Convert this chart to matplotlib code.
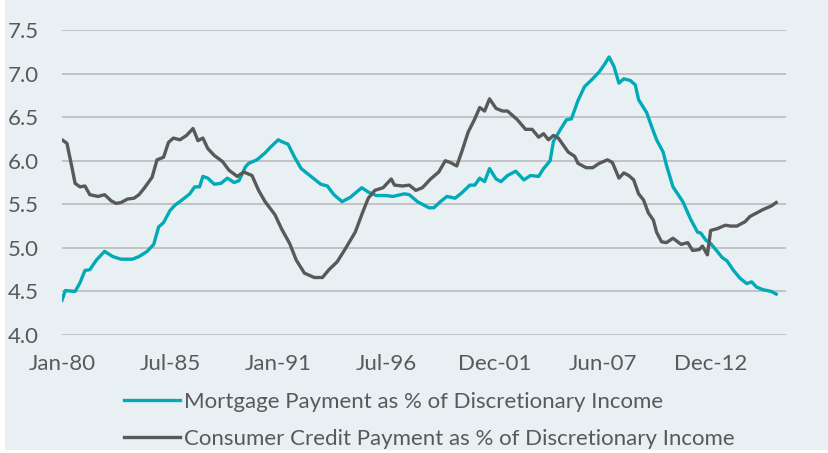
import matplotlib
matplotlib.use("Agg")
import matplotlib.pyplot as plt
from matplotlib.patches import Rectangle

plt.rcParams['font.family'] = ['Lato', 'DejaVu Sans']

# months since Jan-80
mort_m = [0, 2, 8, 11, 14, 17, 21, 26, 31, 36, 43, 47, 52, 56, 59, 62, 66, 69, 74, 78,
          81, 84, 86, 89, 93, 97, 101, 105, 108, 112, 114, 119, 124, 127, 132, 134, 138,
          142, 146, 152, 158, 162, 166, 171, 176, 183, 187, 192, 198, 202, 209, 212, 217,
          224, 227, 231, 235, 240, 244, 249, 252, 255, 258, 261, 265, 268, 272, 277, 282,
          286, 291, 294, 298, 300, 304, 308, 311, 315, 319, 324, 328, 331, 334, 337, 340,
          343, 347, 350, 352, 357, 360, 363, 367, 369, 373, 379, 384, 388, 390, 393, 396,
          400, 403, 406, 410, 414, 418, 421, 424, 428, 433, 436]
mortgage = [4.40, 4.51, 4.50, 4.60, 4.74, 4.75, 4.86, 4.96, 4.90, 4.87, 4.87, 4.90, 4.96,
            5.04, 5.24, 5.29, 5.43, 5.49, 5.56, 5.62, 5.70, 5.70, 5.82, 5.80, 5.73, 5.74,
            5.80, 5.75, 5.77, 5.93, 5.97, 6.01, 6.09, 6.15, 6.24, 6.22, 6.19, 6.04, 5.91,
            5.82, 5.73, 5.71, 5.61, 5.53, 5.58, 5.69, 5.64, 5.60, 5.60, 5.59, 5.62, 5.61,
            5.53, 5.46, 5.46, 5.53, 5.59, 5.57, 5.63, 5.72, 5.72, 5.80, 5.76, 5.91, 5.79,
            5.76, 5.83, 5.88, 5.78, 5.83, 5.82, 5.91, 6.00, 6.22, 6.35, 6.47, 6.48, 6.69,
            6.85, 6.94, 7.02, 7.10, 7.19, 7.08, 6.89, 6.94, 6.92, 6.87, 6.70, 6.55, 6.39,
            6.24, 6.10, 5.95, 5.70, 5.53, 5.32, 5.18, 5.17, 5.09, 5.05, 4.96, 4.89, 4.85,
            4.74, 4.65, 4.59, 4.61, 4.55, 4.52, 4.50, 4.47]

cred_m = [0, 3, 6, 8, 11, 14, 17, 22, 26, 30, 33, 36, 40, 44, 47, 50, 55, 58, 62, 65, 68,
          72, 76, 80, 83, 86, 89, 93, 98, 102, 107, 111, 116, 120, 124, 130, 134, 139, 143,
          148, 154, 159, 163, 168, 173, 179, 184, 187, 191, 196, 201, 203, 208, 212, 216,
          220, 225, 230, 234, 237, 241, 244, 248, 252, 255, 258, 261, 265, 269, 272, 275,
          278, 283, 287, 291, 294, 297, 300, 303, 306, 309, 313, 315, 320, 324, 328, 333,
          336, 340, 343, 346, 349, 352, 355, 358, 361, 363, 366, 369, 373, 378, 382, 385,
          389, 391, 394, 396, 400, 405, 408, 412, 417, 420, 424, 428, 433, 436]
credit = [6.24, 6.20, 5.93, 5.74, 5.70, 5.71, 5.61, 5.59, 5.61, 5.54, 5.51, 5.52, 5.56,
          5.57, 5.61, 5.68, 5.81, 6.01, 6.04, 6.21, 6.26, 6.24, 6.29, 6.37, 6.23, 6.26,
          6.14, 6.06, 5.99, 5.89, 5.82, 5.87, 5.83, 5.66, 5.53, 5.38, 5.22, 5.05, 4.86,
          4.71, 4.66, 4.66, 4.75, 4.84, 4.99, 5.18, 5.43, 5.57, 5.66, 5.69, 5.79, 5.72,
          5.71, 5.72, 5.66, 5.69, 5.79, 5.87, 6.00, 5.98, 5.94, 6.10, 6.33, 6.48, 6.61,
          6.57, 6.71, 6.60, 6.57, 6.57, 6.52, 6.47, 6.36, 6.36, 6.27, 6.31, 6.24, 6.29,
          6.26, 6.18, 6.10, 6.05, 5.97, 5.92, 5.92, 5.97, 6.01, 5.98, 5.80, 5.86, 5.83,
          5.78, 5.62, 5.55, 5.40, 5.32, 5.18, 5.07, 5.06, 5.11, 5.04, 5.06, 4.97, 4.98,
          5.02, 4.92, 5.20, 5.22, 5.26, 5.25, 5.25, 5.30, 5.36, 5.40, 5.44, 5.48, 5.52]

tick_pos = [0, 66, 132, 198, 264, 330, 396]
tick_labels = ["Jan-80", "Jul-85", "Jan-91", "Jul-96", "Dec-01", "Jun-07", "Dec-12"]
y_ticks = [4.0, 4.5, 5.0, 5.5, 6.0, 6.5, 7.0, 7.5]

bg = "#e8f0f3"
teal = "#00aab6"
grey = "#595959"
txt = "#595959"

fig = plt.figure(figsize=(8.29, 4.53), dpi=100)
fig.patch.set_facecolor("white")
fig.patches.append(Rectangle((5 / 829, 3 / 453), 1, 1, transform=fig.transFigure,
                             facecolor=bg, edgecolor="none", zorder=-10))

ax = fig.add_axes([62 / 829, 1 - 335 / 453, (786 - 62) / 829, (335 - 30) / 453])
ax.set_facecolor(bg)
ax.patch.set_alpha(0)

ax.plot(mort_m, mortgage, color=teal, lw=2.4, solid_joinstyle="round",
        label="Mortgage Payment as % of Discretionary Income")
ax.plot(cred_m, credit, color=grey, lw=2.4, solid_joinstyle="round",
        label="Consumer Credit Payment as % of Discretionary Income")

ax.set_xlim(0, 442)
ax.set_ylim(4.0, 7.5)
ax.set_yticks(y_ticks)
ax.set_yticklabels(["%.1f" % v for v in y_ticks])
ax.set_xticks(tick_pos)
ax.set_xticklabels(tick_labels)
ax.grid(axis="y", color="#bfbfbf", lw=1.3)
ax.set_axisbelow(True)
for s in ax.spines.values():
    s.set_visible(False)
ax.tick_params(axis="both", length=0, colors=txt, labelsize=16)
ax.tick_params(axis="y", pad=17)
ax.tick_params(axis="x", pad=14)

leg = ax.legend(loc="upper center", bbox_to_anchor=(0.508, -0.12), ncol=1, frameon=False,
                fontsize=16, handlelength=2.5, handletextpad=0.2, labelspacing=0.78,
                labelcolor=txt)

fig.savefig("out.png", dpi=100, facecolor=fig.get_facecolor())
